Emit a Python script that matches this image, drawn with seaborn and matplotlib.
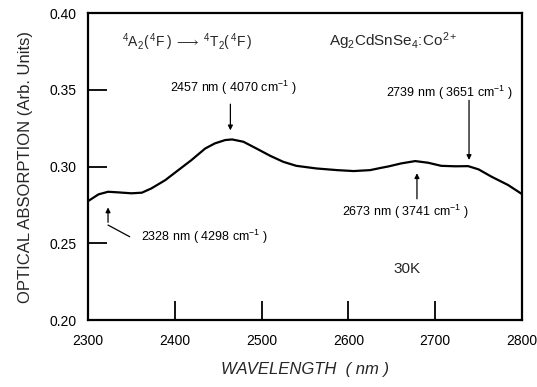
import matplotlib
matplotlib.use("Agg")
import matplotlib.pyplot as plt
import seaborn as sns
import pandas as pd

wavelength = [2300, 2312, 2323, 2335, 2350, 2362, 2373, 2389, 2404, 2419, 2435,
              2446, 2458, 2466, 2479, 2494, 2510, 2525, 2540, 2563, 2587, 2606,
              2625, 2636, 2646, 2661, 2677, 2692, 2707, 2723, 2738, 2750, 2765,
              2784, 2800]
absorption = [0.2775, 0.2819, 0.2836, 0.2832, 0.2826, 0.2830, 0.2858, 0.2912,
              0.2977, 0.3042, 0.3118, 0.3151, 0.3173, 0.3177, 0.3162, 0.3118,
              0.3070, 0.3031, 0.3005, 0.2988, 0.2977, 0.2971, 0.2977, 0.2990,
              0.3001, 0.3021, 0.3036, 0.3025, 0.3005, 0.3002, 0.3003, 0.2982,
              0.2934, 0.2880, 0.2821]
xticks = [2300, 2400, 2500, 2600, 2700, 2800]
yticks = [0.20, 0.25, 0.30, 0.35, 0.40]
ytick_labels = ["0.20", "0.25", "0.30", "0.35", "0.40"]

sns.set_theme(style="ticks")
plt.rcParams["font.family"] = ["Liberation Sans", "DejaVu Sans"]
plt.rcParams["mathtext.fontset"] = "custom"
plt.rcParams["mathtext.rm"] = "Liberation Sans"
plt.rcParams["mathtext.it"] = "Liberation Sans:italic"
plt.rcParams["mathtext.bf"] = "Liberation Sans:bold"

df = pd.DataFrame({"wl": wavelength, "abs": absorption})

fig = plt.figure(figsize=(5.37, 3.87), dpi=100)
ax = fig.add_axes([0.164, 0.173, 0.808, 0.793])
sns.lineplot(data=df, x="wl", y="abs", ax=ax, color="black", linewidth=1.6)
for ln in ax.lines:
    ln.set_solid_joinstyle("round")
    ln.set_solid_capstyle("round")

ax.set_xlim(2300, 2800)
ax.set_ylim(0.20, 0.40)
ax.set_xticks(xticks)
ax.set_yticks(yticks)
ax.set_yticklabels(ytick_labels)
ax.tick_params(direction="in", length=14, width=1.3, labelsize=10, colors="black", pad=10)
ax.tick_params(axis="y", pad=8)
for s in ax.spines.values():
    s.set_linewidth(1.6)
    s.set_color("black")

ax.set_xlabel("WAVELENGTH  ( nm )", fontsize=12, style="italic", labelpad=10)
ax.set_ylabel("OPTICAL ABSORPTION (Arb. Units)", fontsize=12, labelpad=12)

txt = dict(color="black", fontsize=9)
ap = dict(arrowstyle="-|>", color="black", lw=0.9, mutation_scale=7)

ax.text(2339, 0.381,
        r"$\mathregular{^4A_2(\,^4F\,)\;\longrightarrow\;^4T_2(\,^4F\,)}$",
        fontsize=10, ha="left", va="center")
ax.text(2578, 0.382, r"$\mathregular{Ag_2CdSnSe_4\!:\!Co^{2+}}$",
        fontsize=11, ha="left", va="center")
ax.text(2668, 0.233, "30K", fontsize=11, ha="center", va="center")

ax.text(2467, 0.351, r"2457 nm ( 4070 cm$^{\mathregular{-1}}$ )", ha="center", va="center", **txt)
ax.annotate("", xy=(2464, 0.3218), xytext=(2464, 0.3425), arrowprops=ap)

ax.text(2716, 0.348, r"2739 nm ( 3651 cm$^{\mathregular{-1}}$ )", ha="center", va="center", **txt)
ax.annotate("", xy=(2739, 0.3025), xytext=(2739, 0.3450), arrowprops=ap)

ax.text(2666, 0.2705, r"2673 nm ( 3741 cm$^{\mathregular{-1}}$ )", ha="center", va="center", **txt)
ax.annotate("", xy=(2679, 0.2975), xytext=(2679, 0.2772), arrowprops=ap)

ax.text(2361, 0.2543, r"2328 nm ( 4298 cm$^{\mathregular{-1}}$ )", ha="left", va="center", **txt)
ax.plot([2348, 2323], [0.2543, 0.2619], color="black", lw=0.9)
ax.annotate("", xy=(2323, 0.2752), xytext=(2323, 0.2619), arrowprops=ap)

fig.savefig("out.png", dpi=100)
